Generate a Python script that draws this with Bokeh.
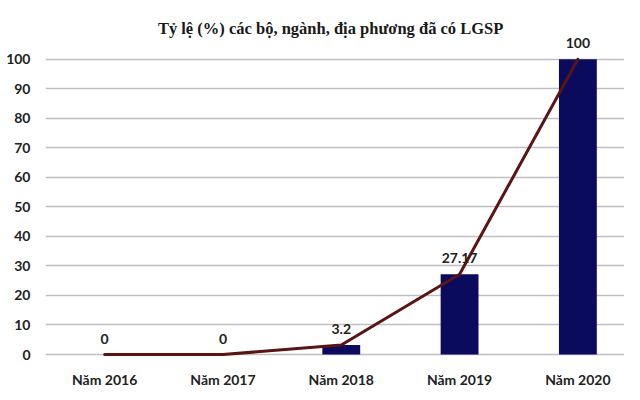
from bokeh.plotting import figure
from bokeh.models import ColumnDataSource, Range1d, FixedTicker, Label
from bokeh.core.properties import value
from bokeh.embed import file_html
from bokeh.resources import INLINE

categories = ["Năm 2016", "Năm 2017", "Năm 2018", "Năm 2019", "Năm 2020"]
values = [0, 0, 3.2, 27.17, 100]
value_labels = ["0", "0", "3.2", "27.17", "100"]
y_ticks = [0, 10, 20, 30, 40, 50, 60, 70, 80, 90, 100]
title_text = "Tỷ lệ (%) các bộ, ngành, địa phương đã có LGSP"

idx = list(range(len(categories)))
src = ColumnDataSource(dict(x=idx, y=values, lab=value_labels))

p = figure(width=624, height=390, output_backend="svg", toolbar_location=None,
           x_range=Range1d(-0.5, 4.394), y_range=Range1d(-1.35, 119.9),
           min_border_left=45, min_border_right=0, min_border_top=0, min_border_bottom=31)
p.outline_line_color = None
p.background_fill_color = "white"
p.border_fill_color = "white"

p.vbar(x="x", top="y", bottom=0, width=0.32, source=src, fill_color="#0b0b5e", line_color=None)
p.line(x="x", y="y", source=src, line_color="#5a1414", line_width=3, line_join="round", line_cap="round")
p.text(x="x", y="y", text="lab", source=src, text_align="center", text_baseline="middle",
       y_offset=-16, text_font=value("Lato"), text_font_size="14px", text_font_style="bold",
       text_color="#222222")

# axes
p.xaxis.ticker = FixedTicker(ticks=idx)
p.xaxis.major_label_overrides = {i: c for i, c in enumerate(categories)}
p.yaxis.ticker = FixedTicker(ticks=y_ticks)
for ax in (p.xaxis, p.yaxis):
    ax.axis_line_color = None
    ax.major_tick_line_color = None
    ax.minor_tick_line_color = None
    ax.major_tick_out = 0
    ax.major_tick_in = 0
    ax.minor_tick_out = 0
    ax.major_label_text_font = "Lato"
    ax.major_label_text_font_size = "14px"
    ax.major_label_text_font_style = "bold"
    ax.major_label_text_color = "#222222"
p.xaxis.major_label_standoff = 12
p.yaxis.major_label_standoff = 15

p.xgrid.grid_line_color = None
p.ygrid.ticker = FixedTicker(ticks=y_ticks)
p.ygrid.grid_line_color = "#bfbfbf"
p.ygrid.grid_line_width = 1.5

p.add_layout(Label(x=1.91, y=110.5, text=title_text, text_align="center", text_baseline="middle",
                   text_font="Liberation Serif", text_font_style="bold", text_font_size="16.5px",
                   text_color="#1a1a1a"))

open("out.html", "w").write(file_html(p, INLINE))
